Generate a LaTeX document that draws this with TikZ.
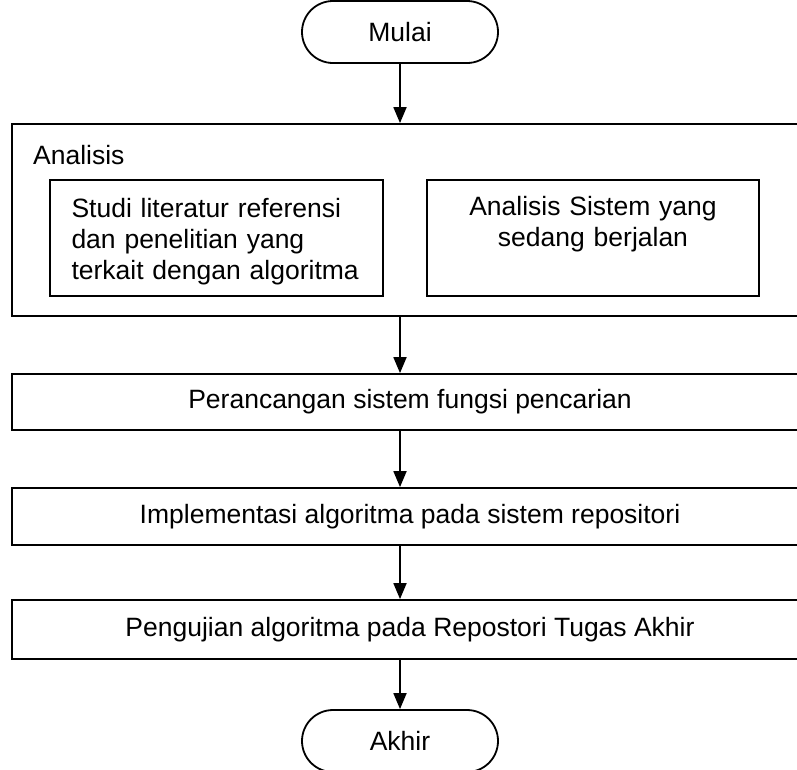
\documentclass[tikz,border=0pt]{standalone}
\usepackage{fontspec}
\setmainfont{Liberation Sans}
\usetikzlibrary{arrows.meta,positioning}
\begin{document}
\begin{tikzpicture}[x=1pt,y=-1pt,
  every node/.style={font=\fontsize{26.5}{29}\selectfont},
  box/.style={draw,line width=1.8pt,inner sep=0pt},
  inner/.style={box,minimum height=116pt},
  innertext/.style={inner sep=0pt,font=\fontsize{26.5}{31}\selectfont},
  term/.style={box,rounded corners=31pt,minimum width=196pt,minimum height=62pt},
  arr/.style={line width=1.8pt,-{Triangle[width=13pt,length=16pt]}}]
\clip (0,0) rectangle (797,769);
\fill[white] (0,0) rectangle (797,769);
\node[term] (mulai) at (400,32) {Mulai};
\node[box,minimum width=796pt,minimum height=192pt] (analisis) at (410,220) {};
\node[anchor=west,inner sep=0pt] (lbl) at (33,155) {Analisis};
\node[inner,minimum width=333pt] (studi) at (216.5,238) {};
\node[inner,minimum width=332pt] (sistem) at (593,238) {};
\node[innertext,text width=295pt,align=left] (studitxt) at (219,242)
  {Studi literatur referensi\\dan penelitian yang\\terkait dengan algoritma};
\node[innertext,text width=320pt,align=center] (sistemtxt) at (593,242)
  {Analisis Sistem yang\\sedang berjalan\\\strut};
\node[box,minimum width=796pt,minimum height=56pt] (rancang) at (410,402) {Perancangan sistem fungsi pencarian};
\node[box,minimum width=796pt,minimum height=57pt] (impl) at (410,516.5) {Implementasi algoritma pada sistem repositori};
\node[box,minimum width=796pt,minimum height=59pt] (uji) at (410,629.5) {Pengujian algoritma pada Repostori Tugas Akhir};
\node[term] (akhir) at (400,741) {Akhir};
\draw[arr] (mulai.south) -- (analisis.north -| mulai);
\draw[arr] (analisis.south -| mulai) -- (rancang.north -| mulai);
\draw[arr] (rancang.south -| mulai) -- (impl.north -| mulai);
\draw[arr] (impl.south -| mulai) -- (uji.north -| mulai);
\draw[arr] (uji.south -| mulai) -- (akhir.north);
\end{tikzpicture}
\end{document}
